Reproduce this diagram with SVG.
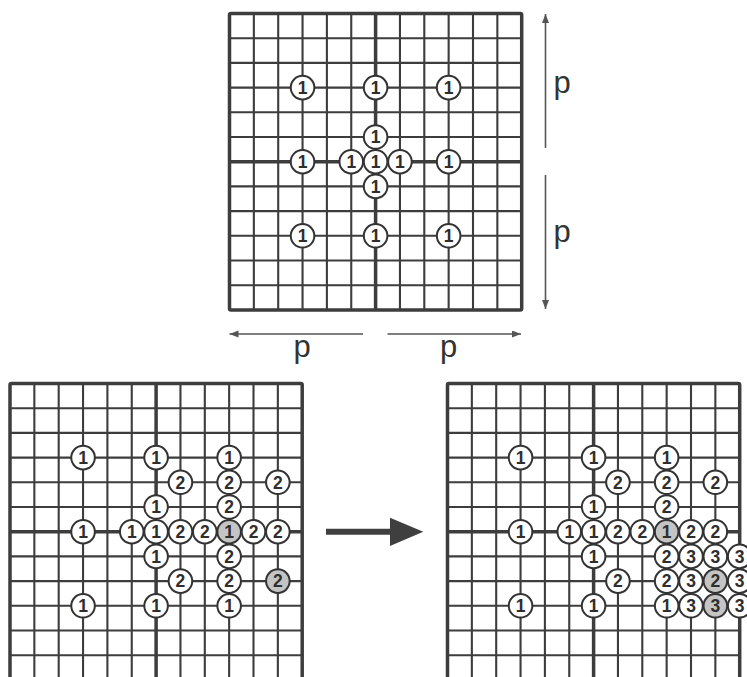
<svg xmlns="http://www.w3.org/2000/svg" xmlns:xlink="http://www.w3.org/1999/xlink" width="747" height="677" viewBox="0 0 747 677">
<style>
.thin{stroke:#3d3d3d;stroke-width:2.1;fill:none}
.thick{stroke:#3d3d3d;stroke-width:3.5;fill:none}
.border{stroke:#3d3d3d;stroke-width:3.5;fill:none;stroke-linejoin:round}
.n circle{fill:#fff;stroke:#333;stroke-width:2}
.n.g circle{fill:#c4c4c4}
.n text{font-family:"Liberation Sans",Arial,sans-serif;font-size:17.5px;font-weight:bold;fill:#2e2e2e;text-anchor:middle}
.lbl{font-family:"Liberation Sans",Arial,sans-serif;font-size:31px;fill:#333;text-anchor:middle}
.dim{stroke:#555;stroke-width:1.6;fill:none;marker-end:url(#ah)}
</style>
<defs>
<marker id="ah" markerUnits="userSpaceOnUse" markerWidth="10" markerHeight="8" refX="9" refY="3.5" orient="auto">
<path d="M0,0 L9,3.5 L0,7 z" fill="#555"/>
</marker>
<g id="grid">
<path class="thin" d="M24.35,0V296.4M48.7,0V296.4M73.05,0V296.4M97.4,0V296.4M121.75,0V296.4M170.45,0V296.4M194.8,0V296.4M219.15,0V296.4M243.5,0V296.4M267.85,0V296.4M0,24.7H292.2M0,49.4H292.2M0,74.1H292.2M0,98.8H292.2M0,123.5H292.2M0,172.9H292.2M0,197.6H292.2M0,222.3H292.2M0,247H292.2M0,271.7H292.2"/>
<path class="thick" d="M146.1,0V296.4M0,148.2H292.2"/>
<rect class="border" x="0" y="0" width="292.2" height="296.4" rx="1.5"/>
</g>
</defs>

<g id="connectors">
<line class="dim" x1="545.5" y1="148" x2="545.5" y2="14"/>
<line class="dim" x1="545.5" y1="175" x2="545.5" y2="309"/>
<line class="dim" x1="363" y1="334" x2="229.5" y2="334"/>
<line class="dim" x1="387.5" y1="334" x2="521" y2="334"/>
<g id="big-arrow">
<line x1="326" y1="531.7" x2="393" y2="531.7" stroke="#3f3f3f" stroke-width="6"/>
<path d="M390,517.7 L423.3,531.7 L390,546 z" fill="#3f3f3f"/>
</g>
</g>

<g id="labels">
<text class="lbl" x="562" y="93">p</text>
<text class="lbl" x="562" y="241.5">p</text>
<text class="lbl" x="302" y="357">p</text>
<text class="lbl" x="448.5" y="357">p</text>
</g>

<g id="top-panel" transform="translate(229.5,13.5)">
<use xlink:href="#grid"/>
<g id="t33" class="n"><circle cx="73.05" cy="74.1" r="11.8"/><text x="73.05" y="80.4">1</text></g>
<g id="t63" class="n"><circle cx="146.1" cy="74.1" r="11.8"/><text x="146.1" y="80.4">1</text></g>
<g id="t93" class="n"><circle cx="219.15" cy="74.1" r="11.8"/><text x="219.15" y="80.4">1</text></g>
<g id="t65" class="n"><circle cx="146.1" cy="123.5" r="11.8"/><text x="146.1" y="129.8">1</text></g>
<g id="t36" class="n"><circle cx="73.05" cy="148.2" r="11.8"/><text x="73.05" y="154.5">1</text></g>
<g id="t56" class="n"><circle cx="121.75" cy="148.2" r="11.8"/><text x="121.75" y="154.5">1</text></g>
<g id="t76" class="n"><circle cx="170.45" cy="148.2" r="11.8"/><text x="170.45" y="154.5">1</text></g>
<g id="t66" class="n"><circle cx="146.1" cy="148.2" r="11.8"/><text x="146.1" y="154.5">1</text></g>
<g id="t96" class="n"><circle cx="219.15" cy="148.2" r="11.8"/><text x="219.15" y="154.5">1</text></g>
<g id="t67" class="n"><circle cx="146.1" cy="172.9" r="11.8"/><text x="146.1" y="179.2">1</text></g>
<g id="t39" class="n"><circle cx="73.05" cy="222.3" r="11.8"/><text x="73.05" y="228.6">1</text></g>
<g id="t69" class="n"><circle cx="146.1" cy="222.3" r="11.8"/><text x="146.1" y="228.6">1</text></g>
<g id="t99" class="n"><circle cx="219.15" cy="222.3" r="11.8"/><text x="219.15" y="228.6">1</text></g>
</g>

<g id="left-panel" transform="translate(10,383.5)">
<use xlink:href="#grid"/>
<g id="l33" class="n"><circle cx="73.05" cy="74.1" r="11.8"/><text x="73.05" y="80.4">1</text></g>
<g id="l63" class="n"><circle cx="146.1" cy="74.1" r="11.8"/><text x="146.1" y="80.4">1</text></g>
<g id="l93" class="n"><circle cx="219.15" cy="74.1" r="11.8"/><text x="219.15" y="80.4">1</text></g>
<g id="l74" class="n"><circle cx="170.45" cy="98.8" r="11.8"/><text x="170.45" y="105.1">2</text></g>
<g id="l94" class="n"><circle cx="219.15" cy="98.8" r="11.8"/><text x="219.15" y="105.1">2</text></g>
<g id="l114" class="n"><circle cx="267.85" cy="98.8" r="11.8"/><text x="267.85" y="105.1">2</text></g>
<g id="l65" class="n"><circle cx="146.1" cy="123.5" r="11.8"/><text x="146.1" y="129.8">1</text></g>
<g id="l95" class="n"><circle cx="219.15" cy="123.5" r="11.8"/><text x="219.15" y="129.8">2</text></g>
<g id="l36" class="n"><circle cx="73.05" cy="148.2" r="11.8"/><text x="73.05" y="154.5">1</text></g>
<g id="l56" class="n"><circle cx="121.75" cy="148.2" r="11.8"/><text x="121.75" y="154.5">1</text></g>
<g id="l76" class="n"><circle cx="170.45" cy="148.2" r="11.8"/><text x="170.45" y="154.5">2</text></g>
<g id="l86" class="n"><circle cx="194.8" cy="148.2" r="11.8"/><text x="194.8" y="154.5">2</text></g>
<g id="l106" class="n"><circle cx="243.5" cy="148.2" r="11.8"/><text x="243.5" y="154.5">2</text></g>
<g id="l116" class="n"><circle cx="267.85" cy="148.2" r="11.8"/><text x="267.85" y="154.5">2</text></g>
<g id="l66" class="n"><circle cx="146.1" cy="148.2" r="11.8"/><text x="146.1" y="154.5">1</text></g>
<g id="l96" class="n g"><circle cx="219.15" cy="148.2" r="11.8"/><text x="219.15" y="154.5">1</text></g>
<g id="l67" class="n"><circle cx="146.1" cy="172.9" r="11.8"/><text x="146.1" y="179.2">1</text></g>
<g id="l97" class="n"><circle cx="219.15" cy="172.9" r="11.8"/><text x="219.15" y="179.2">2</text></g>
<g id="l78" class="n"><circle cx="170.45" cy="197.6" r="11.8"/><text x="170.45" y="203.9">2</text></g>
<g id="l98" class="n"><circle cx="219.15" cy="197.6" r="11.8"/><text x="219.15" y="203.9">2</text></g>
<g id="l118" class="n g"><circle cx="267.85" cy="197.6" r="11.8"/><text x="267.85" y="203.9">2</text></g>
<g id="l39" class="n"><circle cx="73.05" cy="222.3" r="11.8"/><text x="73.05" y="228.6">1</text></g>
<g id="l69" class="n"><circle cx="146.1" cy="222.3" r="11.8"/><text x="146.1" y="228.6">1</text></g>
<g id="l99" class="n"><circle cx="219.15" cy="222.3" r="11.8"/><text x="219.15" y="228.6">1</text></g>
</g>

<g id="right-panel" transform="translate(447.5,383.5)">
<use xlink:href="#grid"/>
<g id="r33" class="n"><circle cx="73.05" cy="74.1" r="11.8"/><text x="73.05" y="80.4">1</text></g>
<g id="r63" class="n"><circle cx="146.1" cy="74.1" r="11.8"/><text x="146.1" y="80.4">1</text></g>
<g id="r93" class="n"><circle cx="219.15" cy="74.1" r="11.8"/><text x="219.15" y="80.4">1</text></g>
<g id="r74" class="n"><circle cx="170.45" cy="98.8" r="11.8"/><text x="170.45" y="105.1">2</text></g>
<g id="r94" class="n"><circle cx="219.15" cy="98.8" r="11.8"/><text x="219.15" y="105.1">2</text></g>
<g id="r114" class="n"><circle cx="267.85" cy="98.8" r="11.8"/><text x="267.85" y="105.1">2</text></g>
<g id="r65" class="n"><circle cx="146.1" cy="123.5" r="11.8"/><text x="146.1" y="129.8">1</text></g>
<g id="r95" class="n"><circle cx="219.15" cy="123.5" r="11.8"/><text x="219.15" y="129.8">2</text></g>
<g id="r36" class="n"><circle cx="73.05" cy="148.2" r="11.8"/><text x="73.05" y="154.5">1</text></g>
<g id="r56" class="n"><circle cx="121.75" cy="148.2" r="11.8"/><text x="121.75" y="154.5">1</text></g>
<g id="r76" class="n"><circle cx="170.45" cy="148.2" r="11.8"/><text x="170.45" y="154.5">2</text></g>
<g id="r86" class="n"><circle cx="194.8" cy="148.2" r="11.8"/><text x="194.8" y="154.5">2</text></g>
<g id="r106" class="n"><circle cx="243.5" cy="148.2" r="11.8"/><text x="243.5" y="154.5">2</text></g>
<g id="r116" class="n"><circle cx="267.85" cy="148.2" r="11.8"/><text x="267.85" y="154.5">2</text></g>
<g id="r66" class="n"><circle cx="146.1" cy="148.2" r="11.8"/><text x="146.1" y="154.5">1</text></g>
<g id="r96" class="n g"><circle cx="219.15" cy="148.2" r="11.8"/><text x="219.15" y="154.5">1</text></g>
<g id="r67" class="n"><circle cx="146.1" cy="172.9" r="11.8"/><text x="146.1" y="179.2">1</text></g>
<g id="r97" class="n"><circle cx="219.15" cy="172.9" r="11.8"/><text x="219.15" y="179.2">2</text></g>
<g id="r107" class="n"><circle cx="243.5" cy="172.9" r="11.8"/><text x="243.5" y="179.2">3</text></g>
<g id="r117" class="n"><circle cx="267.85" cy="172.9" r="11.8"/><text x="267.85" y="179.2">3</text></g>
<g id="r127" class="n"><circle cx="292.2" cy="172.9" r="11.8"/><text x="292.2" y="179.2">3</text></g>
<g id="r78" class="n"><circle cx="170.45" cy="197.6" r="11.8"/><text x="170.45" y="203.9">2</text></g>
<g id="r98" class="n"><circle cx="219.15" cy="197.6" r="11.8"/><text x="219.15" y="203.9">2</text></g>
<g id="r108" class="n"><circle cx="243.5" cy="197.6" r="11.8"/><text x="243.5" y="203.9">3</text></g>
<g id="r118" class="n g"><circle cx="267.85" cy="197.6" r="11.8"/><text x="267.85" y="203.9">2</text></g>
<g id="r128" class="n"><circle cx="292.2" cy="197.6" r="11.8"/><text x="292.2" y="203.9">3</text></g>
<g id="r39" class="n"><circle cx="73.05" cy="222.3" r="11.8"/><text x="73.05" y="228.6">1</text></g>
<g id="r69" class="n"><circle cx="146.1" cy="222.3" r="11.8"/><text x="146.1" y="228.6">1</text></g>
<g id="r99" class="n"><circle cx="219.15" cy="222.3" r="11.8"/><text x="219.15" y="228.6">1</text></g>
<g id="r109" class="n"><circle cx="243.5" cy="222.3" r="11.8"/><text x="243.5" y="228.6">3</text></g>
<g id="r119" class="n g"><circle cx="267.85" cy="222.3" r="11.8"/><text x="267.85" y="228.6">3</text></g>
<g id="r129" class="n"><circle cx="292.2" cy="222.3" r="11.8"/><text x="292.2" y="228.6">3</text></g>
</g>
</svg>
